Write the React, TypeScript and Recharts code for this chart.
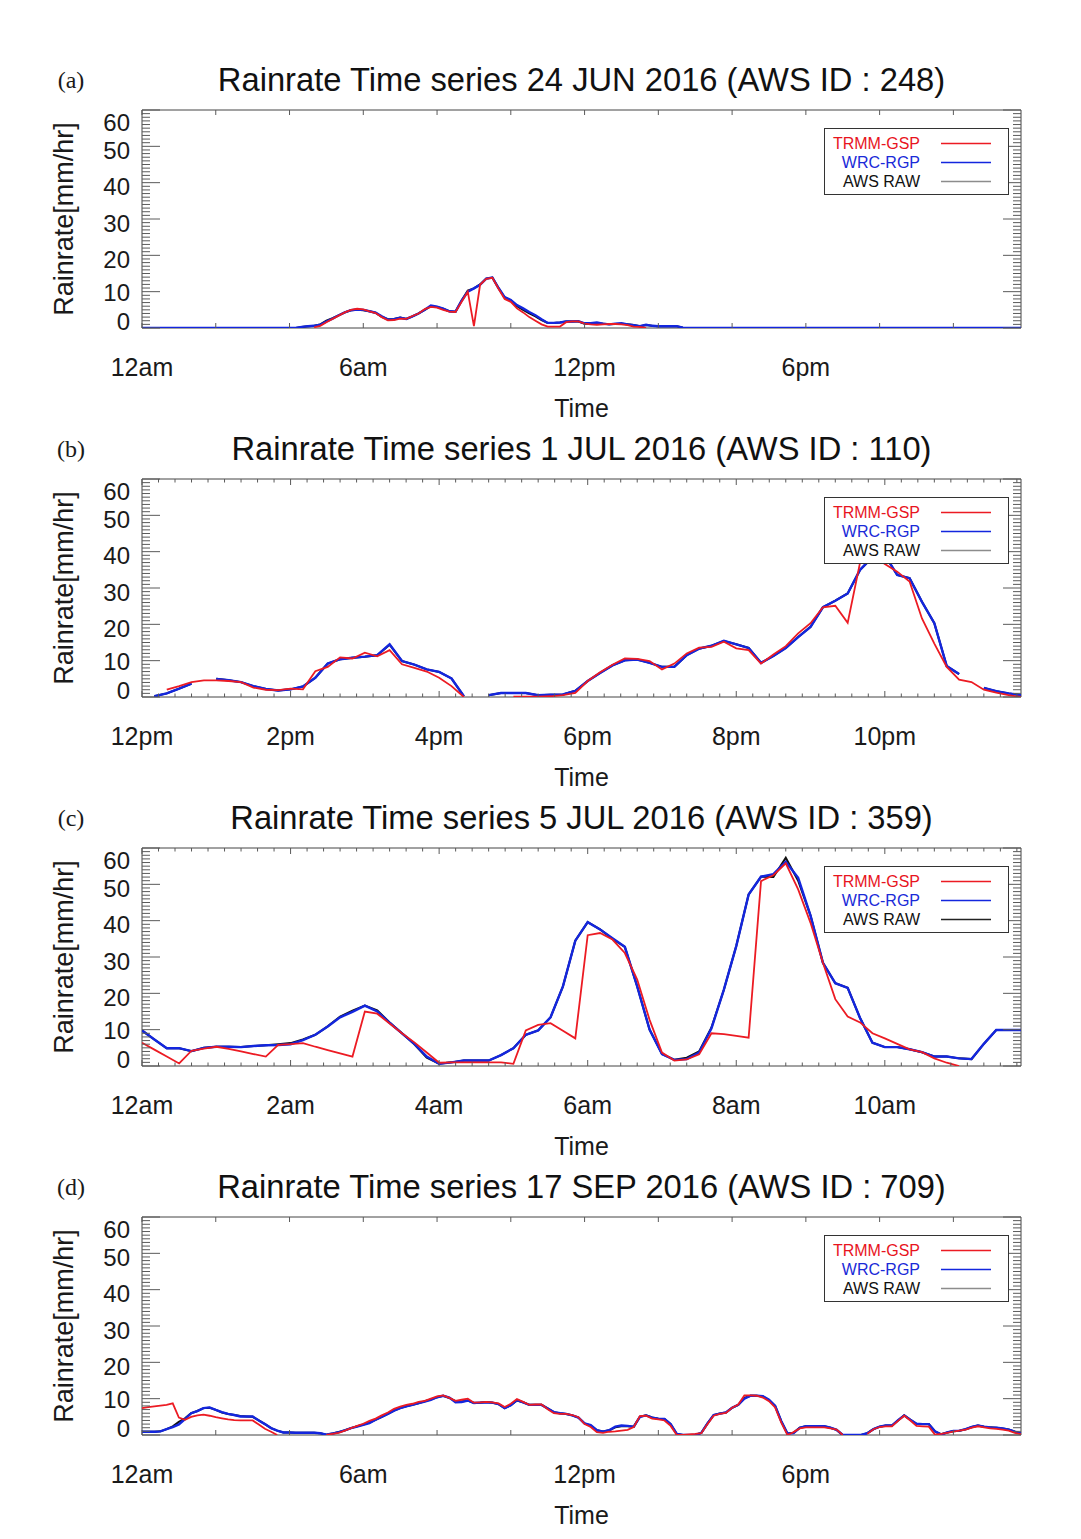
import React from 'react'
import { LineChart, Line, XAxis, YAxis, ReferenceArea, Legend } from 'recharts'

const _ = null

// 24 JUN 2016 (AWS 248), 10-min samples from 00:00
const JUN24_TRMM = [
  _, _, _, _, _, _, _, _, _, _, _, _,
  _, _, _, _, _, _, _, _, _, _, _, _,
  _, _, _, _, 0.2, 0.6, 1.6, 2.5, 3.4, 4.3, 5.0, 5.3,
  5.1, 4.6, 4.1, 3.0, 2.1, 2.2, 2.6, 2.5, 3.3, 4.0, 5.2, 5.8,
  5.6, 5.0, 4.5, 4.4, 7.2, 10.0, 0.5, 11.9, 13.5, 13.8, 10.8, 8.0,
  7.2, 5.4, 4.3, 3.0, 2.0, 1.0, 0.4, 0.4, 0.4, 1.6, 1.8, 1.8,
  1.2, 1.0, 0.9, 1.0, 1.1, 1.1, 1.0, 0.8, 0.4, 0.3, 0, _,
  _, _, _, _, _, _, _, _, _, _, _, _,
  _, _, _, _, _, _, _, _, _, _, _, _,
  _, _, _, _, _, _, _, _, _, _, _, _,
  _, _, _, _, _, _, _, _, _, _, _, _,
  _, _, _, _, _, _, _, _, _, _, _, _,
]
const JUN24_WRC = [
  0, 0, 0, 0, 0, 0, 0, 0, 0, 0, 0, 0,
  0, 0, 0, 0, 0, 0, 0, 0, 0, 0, 0, 0,
  0, 0, 0.3, 0.5, 0.6, 0.9, 1.8, 2.6, 3.5, 4.3, 4.9, 5.1,
  5.0, 4.6, 4.2, 3.2, 2.3, 2.4, 2.8, 2.5, 3.2, 4.0, 5.0, 6.2,
  5.9, 5.3, 4.6, 4.5, 7.5, 10.0, 10.9, 11.9, 13.6, 13.9, 11.0, 8.5,
  7.7, 6.3, 5.4, 4.4, 3.5, 2.4, 1.4, 1.4, 1.5, 1.8, 1.8, 1.9,
  1.3, 1.3, 1.5, 1.2, 1.0, 1.2, 1.3, 1.0, 0.8, 0.5, 0.9, 0.6,
  0.5, 0.5, 0.5, 0.5, 0.1, 0, 0, 0, 0, 0, 0, 0,
  0, 0, 0, 0, 0, 0, 0, 0, 0, 0, 0, 0,
  0, 0, 0, 0, 0, 0, 0, 0, 0, 0, 0, 0,
  0, 0, 0, 0, 0, 0, 0, 0, 0, 0, 0, 0,
  0, 0, 0, 0, 0, 0, 0, 0, 0, 0, 0, 0,
]
const JUN24_AWS = [
  0, 0, 0, 0, 0, 0, 0, 0, 0, 0, 0, 0,
  0, 0, 0, 0, 0, 0, 0, 0, 0, 0, 0, 0,
  0, 0, 0.3, 0.5, 0.6, 1.0, 2.0, 2.7, 3.5, 4.3, 4.9, 5.0,
  4.9, 4.6, 4.2, 3.1, 2.4, 2.5, 2.9, 2.5, 3.2, 4.0, 5.0, 6.0,
  5.8, 5.3, 4.6, 4.5, 7.6, 10.3, 10.9, 12.0, 13.6, 13.9, 11.0, 8.4,
  7.6, 6.0, 5.0, 4.0, 3.2, 2.2, 1.4, 1.4, 1.5, 1.8, 1.8, 1.8,
  1.2, 1.2, 1.4, 1.2, 1.0, 1.1, 1.2, 1.0, 0.8, 0.5, 0.8, 0.6,
  0.5, 0.5, 0.5, 0.5, 0.1, 0, 0, 0, 0, 0, 0, 0,
  0, 0, 0, 0, 0, 0, 0, 0, 0, 0, 0, 0,
  0, 0, 0, 0, 0, 0, 0, 0, 0, 0, 0, 0,
  0, 0, 0, 0, 0, 0, 0, 0, 0, 0, 0, 0,
  0, 0, 0, 0, 0, 0, 0, 0, 0, 0, 0, 0,
]

// 1 JUL 2016 (AWS 110), 10-min samples from 12:00
const JUL1_TRMM = [
  _, _, 2.0, 3.0, 4.1, 4.6, 4.6, 4.4, 4.1, 2.6, 2.0, 1.9,
  2.3, 2.1, 7.1, 8.3, 10.9, 10.6, 12.2, 11.2, 12.9, 9.0, 8.0, 7.0,
  5.3, 3.0, 0, _, _, _, 0.1, 0.1, 0.1, 0.2, 0.5, 1.1,
  4.4, 6.8, 8.9, 10.6, 10.5, 9.9, 7.6, 9.2, 12.0, 13.6, 13.8, 15.2,
  13.4, 12.9, 9.2, 11.7, 14.0, 17.5, 20.3, 24.7, 25.1, 20.4, 37.0, 39.0,
  36.6, 34.5, 31.8, 21.6, 14.7, 8.3, 4.8, 4.1, 2.0, 1.2, 0.5, 0,
]
const JUL1_WRC = [
  _, 0.2, 1.0, 2.3, 3.7, _, 5.0, 4.6, 4.1, 3.0, 2.2, 1.8,
  2.1, 2.9, 5.3, 9.2, 10.4, 10.8, 11.1, 11.5, 14.5, 9.9, 8.9, 7.6,
  6.9, 5.1, 0.2, _, 0.5, 1.1, 1.1, 1.1, 0.5, 0.6, 0.7, 1.7,
  4.4, 6.6, 8.7, 10.1, 10.3, 9.4, 8.3, 8.3, 11.5, 13.3, 14.1, 15.5,
  14.5, 13.5, 9.4, 11.3, 13.5, 16.5, 19.3, 24.7, 26.5, 28.5, 35.0, 38.5,
  39.1, 33.6, 32.7, 26.2, 20.3, 8.5, 6.3, _, 2.5, 1.6, 1.0, 0.5,
]
const JUL1_AWS = [
  _, 0.2, 1.0, 2.3, 3.7, _, 5.0, 4.6, 4.1, 3.0, 2.2, 1.8,
  2.1, 2.9, 5.3, 9.2, 10.4, 10.8, 11.1, 11.5, 14.4, 9.9, 8.9, 7.6,
  6.9, 5.1, 0.2, _, 0.5, 1.1, 1.1, 1.1, 0.5, 0.6, 0.7, 1.7,
  4.4, 6.6, 8.7, 10.1, 10.3, 9.4, 8.3, 8.3, 11.5, 13.3, 14.1, 15.4,
  14.5, 13.5, 9.4, 11.3, 13.5, 16.5, 19.3, 24.7, 26.5, 28.5, 35.0, 38.4,
  39.0, 33.6, 32.7, 26.2, 20.3, 8.5, 6.3, _, 2.5, 1.6, 1.0, 0.5,
]

// 5 JUL 2016 (AWS 359), 10-min samples from 00:00
const JUL5_TRMM = [
  6.4, 4.5, 2.6, 0.7, 4.2, 4.8, 5.3, 4.7, 4.0, 3.3, 2.6, 5.8,
  6.0, 6.3, 5.3, 4.4, 3.5, 2.6, 15.0, 14.4, 11.7, 9.0, 6.5, 3.7,
  0.9, 1.0, 1.0, 1.0, 1.0, 1.0, 0.6, 9.8, 11.3, 11.8, 9.7, 7.6,
  36.0, 36.6, 34.8, 31.1, 23.8, 12.7, 3.7, 1.5, 1.8, 3.2, 9.0, 8.8,
  8.3, 7.8, 50.9, 52.5, 55.8, 48.6, 39.4, 28.4, 18.4, 13.6, 12.0, 9.0,
  7.6, 6.1, 4.6, 3.8, 2.1, 0.9, 0, _, _, _, _, _,
]
const JUL5_WRC = [
  9.8, 7.3, 4.9, 4.9, 4.1, 5.0, 5.3, 5.3, 5.2, 5.5, 5.7, 5.8,
  6.0, 7.1, 8.6, 10.9, 13.4, 14.9, 16.6, 15.0, 11.9, 9.0, 6.1, 2.6,
  0.6, 1.0, 1.5, 1.5, 1.5, 3.0, 4.9, 8.6, 9.8, 13.4, 21.9, 34.5,
  39.6, 37.6, 35.2, 32.8, 21.9, 10.0, 3.3, 1.7, 1.9, 3.7, 10.4, 21.0,
  33.0, 47.2, 52.1, 52.8, 56.2, 51.8, 41.4, 28.4, 22.8, 21.5, 13.2, 6.4,
  5.2, 5.2, 4.6, 3.8, 2.6, 2.6, 2.1, 1.9, 6.1, 9.9, 9.9, 9.9,
]
const JUL5_AWS = [
  9.8, 7.3, 4.9, 4.9, 4.1, 5.0, 5.3, 5.3, 5.2, 5.5, 5.7, 6.0,
  6.3, 7.3, 8.6, 10.9, 13.6, 15.2, 16.6, 15.3, 12.0, 9.0, 6.0, 2.3,
  0.6, 1.0, 1.5, 1.5, 1.5, 3.0, 4.9, 8.6, 9.8, 13.4, 21.9, 34.5,
  39.6, 37.6, 35.0, 32.8, 21.9, 10.0, 3.3, 1.7, 2.3, 4.0, 10.6, 21.0,
  33.0, 47.2, 52.1, 52.0, 57.3, 51.0, 41.4, 28.4, 22.8, 21.5, 13.2, 6.4,
  5.2, 5.2, 4.6, 3.8, 2.6, 2.6, 2.1, 1.9, 6.1, 9.9, 9.9, 9.9,
]

// 17 SEP 2016 (AWS 709), 10-min samples from 00:00
const SEP17_TRMM = [
  7.4, 7.7, 7.9, 8.1, 8.3, 8.7, 4.8, 4.2, 5.0, 5.4, 5.6, 5.3,
  4.9, 4.6, 4.3, 4.1, 4.0, 4.0, 4.0, 2.9, 1.7, 0.9, 0, _,
  _, _, _, _, _, _, 0, 0.3, 0.6, 1.2, 1.9, 2.5,
  3.1, 3.9, 4.5, 5.4, 6.2, 7.2, 7.8, 8.3, 8.6, 9.1, 9.4, 10.0,
  10.6, 10.9, 10.2, 9.4, 9.7, 10.0, 8.9, 9.0, 9.1, 9.0, 8.7, 7.7,
  8.6, 9.9, 9.1, 8.3, 8.4, 8.4, 7.1, 6.0, 5.8, 5.8, 5.5, 4.9,
  3.0, 2.2, 0.8, 0.6, 0.9, 1.0, 1.2, 1.4, 2.2, 5.2, 5.3, 4.5,
  4.3, 4.0, 2.5, 0, 0, 0.2, 0.3, 0.5, 3.0, 5.3, 5.8, 6.1,
  7.5, 8.4, 10.9, 10.9, 10.8, 10.3, 9.3, 7.6, 3.4, 0, 0.8, 1.8,
  2.1, 2.1, 2.1, 2.1, 1.8, 1.5, 0, _, _, _, 0.3, 1.6,
  2.2, 2.4, 2.4, 3.9, 5.3, 4.0, 2.5, 2.4, 2.3, 0.1, 0.3, 0.6,
  0.9, 1.2, 1.5, 2.0, 2.4, 2.1, 1.8, 1.7, 1.5, 1.2, 0.6, 0.2,
]
const SEP17_WRC = [
  0.9, 0.9, 0.9, 1.0, 1.6, 2.2, 2.9, 4.4, 6.0, 6.6, 7.4, 7.6,
  6.9, 6.3, 5.8, 5.5, 5.1, 5.1, 5.1, 4.0, 3.0, 1.9, 1.2, 0.7,
  0.7, 0.6, 0.6, 0.6, 0.6, 0.5, 0.1, 0.4, 0.8, 1.3, 1.9, 2.3,
  2.8, 3.3, 4.2, 5.0, 5.8, 6.7, 7.4, 7.9, 8.3, 8.8, 9.2, 9.7,
  10.4, 10.8, 10.3, 9.0, 9.1, 9.5, 8.8, 8.9, 9.0, 8.9, 8.5, 7.4,
  8.2, 9.6, 9.0, 8.3, 8.3, 8.3, 7.3, 6.3, 6.0, 5.8, 5.4, 4.8,
  3.2, 2.7, 1.3, 0.9, 1.3, 2.3, 2.6, 2.5, 2.3, 5.0, 5.4, 4.8,
  4.5, 4.4, 3.0, 0.3, 0, 0, 0, 0.6, 3.2, 5.5, 5.9, 6.2,
  7.5, 8.3, 10.0, 10.8, 10.8, 10.7, 9.7, 8.0, 3.8, 0.4, 0.5, 2.0,
  2.4, 2.4, 2.4, 2.4, 2.0, 1.4, 0, 0, 0, 0, 0.5, 1.6,
  2.3, 2.6, 2.6, 4.1, 5.4, 4.2, 3.1, 3.0, 3.0, 1.0, 0.1, 0.7,
  1.1, 1.2, 1.6, 2.2, 2.6, 2.3, 2.1, 2.0, 1.8, 1.5, 0.9, 0.4,
]
const SEP17_AWS = [
  0.9, 0.9, 0.9, 1.0, 1.6, 2.4, 3.6, 4.6, 6.0, 6.6, 7.4, 7.5,
  6.9, 6.2, 5.8, 5.5, 5.2, 5.1, 5.0, 4.0, 3.0, 1.9, 1.2, 0.7,
  0.7, 0.6, 0.6, 0.6, 0.6, 0.5, 0.1, 0.4, 0.8, 1.3, 1.9, 2.4,
  2.9, 3.4, 4.2, 5.0, 5.8, 6.7, 7.4, 7.9, 8.3, 8.7, 9.3, 9.8,
  10.4, 10.8, 10.2, 9.3, 9.2, 9.5, 8.8, 8.9, 9.1, 8.9, 8.5, 7.4,
  8.2, 9.5, 9.0, 8.3, 8.3, 8.3, 7.3, 6.3, 6.0, 5.8, 5.4, 4.8,
  3.2, 2.6, 1.3, 1.0, 1.3, 2.1, 2.4, 2.4, 2.3, 5.0, 5.4, 4.8,
  4.5, 4.4, 3.0, 0.3, 0, 0, 0, 0.6, 3.2, 5.5, 5.9, 6.2,
  7.5, 8.3, 10.2, 10.8, 10.8, 10.6, 9.6, 8.0, 3.8, 0.4, 0.6, 2.0,
  2.4, 2.4, 2.4, 2.4, 2.0, 1.4, 0, 0, 0, 0, 0.5, 1.6,
  2.3, 2.6, 2.6, 4.0, 5.4, 4.2, 3.1, 3.0, 3.0, 1.0, 0.2, 0.7,
  1.1, 1.2, 1.6, 2.2, 2.6, 2.3, 2.1, 2.0, 1.8, 1.5, 0.9, 0.4,
]

const Y_LABELS = [0, 10, 20, 30, 40, 50, 60]
const Y_TICKS = Array.from({ length: 61 }, (v, k) => k) // minor ticks every 1 mm/hr

const DAY_TICKS = [0, 2, 4, 6, 8, 10, 12, 14, 16, 18, 20, 22]
const DAY_LABELS: Record<number, string> = { 0: '12am', 6: '6am', 12: '12pm', 18: '6pm' }
const AM_LABELS: Record<number, string> = { 0: '12am', 2: '2am', 4: '4am', 6: '6am', 8: '8am', 10: '10am' }
const PM_LABELS: Record<number, string> = { 12: '12pm', 14: '2pm', 16: '4pm', 18: '6pm', 20: '8pm', 22: '10pm' }
// half-day panels carry 9 small ticks per 2 hours
const fineTicks = (start: number) => Array.from({ length: 54 }, (v, k) => start + (k * 2) / 9)

const SERIES = [
  { key: 'aws', name: 'AWS RAW', color: '#111111', width: 2 },
  { key: 'wrc', name: 'WRC-RGP', color: '#1326de', width: 2.4 },
  { key: 'trmm', name: 'TRMM-GSP', color: '#ec1b23', width: 1.8 },
]
const LEGEND_ORDER = ['TRMM-GSP', 'WRC-RGP', 'AWS RAW']
const LEGEND_TEXT: Record<string, string> = { 'TRMM-GSP': '#e8141e', 'WRC-RGP': '#1a2ad8', 'AWS RAW': '#111' }
const LEGEND_LINE: Record<string, string> = { 'TRMM-GSP': '#ec1b23', 'WRC-RGP': '#1326de' }

const PANELS = [
  { tag: '(a)', title: 'Rainrate Time series 24 JUN 2016 (AWS ID : 248)', start: 0, trmm: JUN24_TRMM, wrc: JUN24_WRC, aws: JUN24_AWS, ticks: DAY_TICKS, labels: DAY_LABELS, fine: false, awsSample: '#8c8c8c' },
  { tag: '(b)', title: 'Rainrate Time series 1 JUL 2016 (AWS ID : 110)', start: 12, trmm: JUL1_TRMM, wrc: JUL1_WRC, aws: JUL1_AWS, ticks: fineTicks(12), labels: PM_LABELS, fine: true, awsSample: '#8c8c8c' },
  { tag: '(c)', title: 'Rainrate Time series 5 JUL 2016 (AWS ID : 359)', start: 0, trmm: JUL5_TRMM, wrc: JUL5_WRC, aws: JUL5_AWS, ticks: fineTicks(0), labels: AM_LABELS, fine: true, awsSample: '#222' },
  { tag: '(d)', title: 'Rainrate Time series 17 SEP 2016 (AWS ID : 709)', start: 0, trmm: SEP17_TRMM, wrc: SEP17_WRC, aws: SEP17_AWS, ticks: DAY_TICKS, labels: DAY_LABELS, fine: false, awsSample: '#8c8c8c' },
]

const PANEL_STEP = 369
const CHART_TOP = 90
const CHART_W = 1081
const CHART_H = 340
const M_TOP = 20
const PLOT_H = 218
const Y_AXIS_W = 142
const M_RIGHT = 60
const PLOT_R = CHART_W - M_RIGHT
const X_GAP = 39
const Y_GAP = 12
const FONT = '"Liberation Sans", Arial, sans-serif'
const INK = '#1a1a1a'
const TICK = '#5a5a5a'

const YTick = (props: any) => {
  const { x, y, payload } = props
  const v = payload.value
  const major = v % 10 === 0
  const len = major ? 18 : 8
  const left = x + Y_GAP
  // the original plot nudges its end labels inward
  const shift = v === 60 ? 12 : v === 0 ? -7 : v === 10 ? 1 : 4
  return (
    <g>
      <line x1={left} x2={left + len} y1={y} y2={y} stroke={TICK} strokeWidth={1} />
      <line x1={PLOT_R - len} x2={PLOT_R} y1={y} y2={y} stroke={TICK} strokeWidth={1} />
      {Y_LABELS.includes(v) && (
        <text x={x} y={y + shift} dy="0.36em" textAnchor="end" fontFamily={FONT} fontSize={24} fill={INK}>
          {v}
        </text>
      )}
    </g>
  )
}

const XTick = (props: any) => {
  const { x, y, payload, labels, fine } = props
  const v = payload.value
  const hr = Math.round(v)
  const onHour = Math.abs(v - hr) < 1e-6 && hr % 2 === 0
  const len = fine ? (onHour ? 6 : 3.5) : 5
  const bottom = y - X_GAP
  const top = bottom - PLOT_H
  return (
    <g>
      <line x1={x} x2={x} y1={bottom} y2={bottom - len} stroke={TICK} strokeWidth={1} />
      <line x1={x} x2={x} y1={top} y2={top + len} stroke={TICK} strokeWidth={1} />
      {onHour && labels[hr] && (
        <text x={x} y={y} dy="0.36em" textAnchor="middle" fontFamily={FONT} fontSize={25} fill={INK}>
          {labels[hr]}
        </text>
      )}
    </g>
  )
}

const LegendBox = ({ payload, awsSample }: any) => {
  const items = LEGEND_ORDER.filter(n => (payload || []).some((p: any) => p.value === n))
  return (
    <div style={{ position: 'relative', width: 185, height: 67, border: '1px solid #333', boxSizing: 'border-box', background: '#fff' }}>
      {items.map((name, i) => (
        <div key={name} style={{ position: 'absolute', top: 5 + i * 19, left: 0, height: 19, width: 183 }}>
          <span style={{ position: 'absolute', right: 88, top: 0, lineHeight: '19px', fontFamily: FONT, fontSize: 16, color: LEGEND_TEXT[name], whiteSpace: 'nowrap' }}>
            {name}
          </span>
          <svg width={52} height={19} style={{ position: 'absolute', left: 115, top: 0 }}>
            <line x1={1} x2={51} y1={9.5} y2={9.5} stroke={LEGEND_LINE[name] || awsSample} strokeWidth={1.3} />
          </svg>
        </div>
      ))}
    </div>
  )
}

const Panel = ({ cfg, index }: { cfg: typeof PANELS[number]; index: number }) => {
  const oy = index * PANEL_STEP
  const rows = cfg.trmm.map((v, i) => ({ h: cfg.start + i / 6, trmm: v, wrc: cfg.wrc[i], aws: cfg.aws[i] }))
  const x1 = cfg.start + (cfg.trmm.length - 1) / 6
  const center = Y_AXIS_W + (PLOT_R - Y_AXIS_W) / 2
  const txt: React.CSSProperties = { position: 'absolute', transform: 'translate(-50%, -50%)', whiteSpace: 'nowrap', color: INK }
  return (
    <>
      <div style={{ ...txt, left: 71, top: oy + 80, fontFamily: '"Liberation Serif", serif', fontSize: 24 }}>{cfg.tag}</div>
      <div style={{ ...txt, left: center, top: oy + 80, fontFamily: FONT, fontSize: 32.7, color: '#111' }}>{cfg.title}</div>
      <div style={{ ...txt, left: 64, top: oy + 219, fontFamily: FONT, fontSize: 27, transform: 'translate(-50%, -50%) rotate(-90deg)' }}>
        Rainrate[mm/hr]
      </div>
      <div style={{ ...txt, left: center, top: oy + 408, fontFamily: FONT, fontSize: 25 }}>Time</div>
      <div style={{ position: 'absolute', left: 0, top: oy + CHART_TOP }}>
        <LineChart width={CHART_W} height={CHART_H} data={rows} margin={{ top: M_TOP, right: M_RIGHT, bottom: 0, left: 0 }}>
          <XAxis
            dataKey="h"
            type="number"
            domain={[cfg.start, x1]}
            allowDataOverflow
            ticks={cfg.ticks}
            interval={0}
            height={CHART_H - M_TOP - PLOT_H}
            tickSize={0}
            tickMargin={X_GAP}
            axisLine={false}
            tick={(p: any) => <XTick {...p} labels={cfg.labels} fine={cfg.fine} />}
          />
          <YAxis
            type="number"
            domain={[0, 60]}
            allowDataOverflow
            ticks={Y_TICKS}
            interval={0}
            width={Y_AXIS_W}
            tickSize={0}
            tickMargin={Y_GAP}
            axisLine={false}
            tick={(p: any) => <YTick {...p} />}
          />
          <ReferenceArea x1={cfg.start} x2={x1} y1={0} y2={60} fill="none" stroke="#444" strokeWidth={1} ifOverflow="visible" />
          {SERIES.map(s => (
            <Line
              key={s.key}
              type="linear"
              dataKey={s.key}
              name={s.name}
              stroke={s.color}
              strokeWidth={s.width}
              dot={false}
              activeDot={false}
              isAnimationActive={false}
            />
          ))}
          <Legend
            layout="horizontal"
            verticalAlign="middle"
            align="center"
            wrapperStyle={{ left: 824, top: 38, width: 185, height: 67 }}
            content={(p: any) => <LegendBox {...p} awsSample={cfg.awsSample} />}
          />
        </LineChart>
      </div>
    </>
  )
}

export default function App() {
  return (
    <div style={{ position: 'absolute', left: 0, top: 0, width: 1081, height: 1539, background: '#fff', overflow: 'hidden' }}>
      {PANELS.map((cfg, i) => (
        <Panel key={cfg.tag} cfg={cfg} index={i} />
      ))}
    </div>
  )
}
